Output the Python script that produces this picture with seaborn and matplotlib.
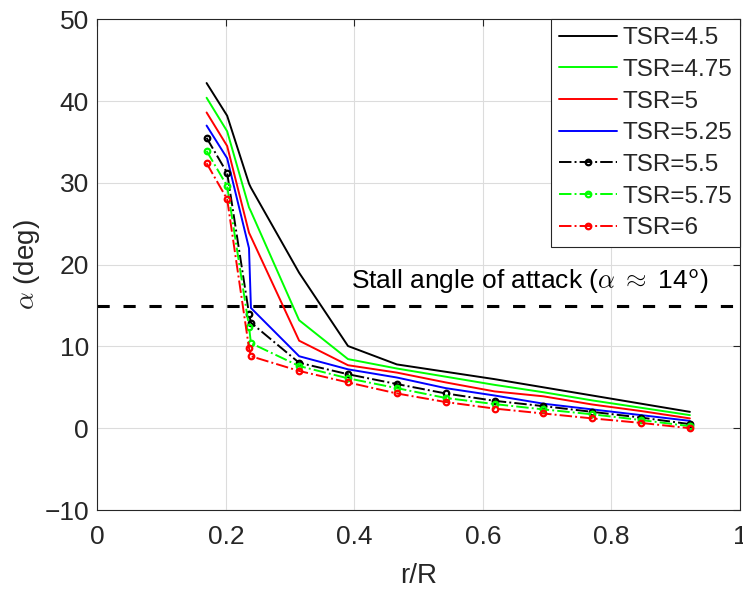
import numpy as np
import pandas as pd
import matplotlib
matplotlib.use("Agg")
import matplotlib.pyplot as plt
import seaborn as sns

# ---- data ----
r_R = [0.170, 0.202, 0.236, 0.239, 0.314, 0.390, 0.466, 0.542, 0.618, 0.694, 0.770, 0.846, 0.922]
tsr_labels = ["TSR=4.5", "TSR=4.75", "TSR=5", "TSR=5.25", "TSR=5.5", "TSR=5.75", "TSR=6"]
alpha_45 = [42.2, 38.2, 29.9, 29.4, 19.0, 10.05, 7.8, 6.9, 6.0, 5.0, 4.0, 3.0, 2.0]
alpha_475 = [40.4, 36.3, 27.0, 26.5, 13.2, 8.45, 7.3, 6.3, 5.3, 4.4, 3.4, 2.5, 1.6]
alpha_5 = [38.6, 34.5, 23.9, 23.4, 10.7, 7.7, 6.8, 5.6, 4.5, 3.9, 2.9, 2.1, 1.2]
alpha_525 = [37.0, 33.0, 22.0, 14.7, 8.8, 7.2, 6.2, 4.9, 4.0, 3.0, 2.3, 1.6, 0.9]
alpha_55 = [35.5, 31.2, 14.0, 12.9, 8.0, 6.6, 5.4, 4.25, 3.35, 2.7, 2.0, 1.3, 0.5]
alpha_575 = [33.9, 29.6, 12.4, 10.4, 7.6, 6.1, 4.9, 3.7, 2.95, 2.3, 1.7, 1.0, 0.25]
alpha_6 = [32.4, 28.0, 9.8, 8.8, 7.0, 5.6, 4.25, 3.2, 2.4, 1.8, 1.2, 0.65, 0.0]
stall_angle = 15
x_ticks = [0, 0.2, 0.4, 0.6, 0.8, 1]
x_tick_labels = ["0", "0.2", "0.4", "0.6", "0.8", "1"]
y_ticks = [-10, 0, 10, 20, 30, 40, 50]

series = [alpha_45, alpha_475, alpha_5, alpha_525, alpha_55, alpha_575, alpha_6]
colors = ["#000000", "#00ff00", "#ff0000", "#0000ff", "#000000", "#00ff00", "#ff0000"]
styles = ["-", "-", "-", "-", "-.", "-.", "-."]
markers = [None, None, None, None, "o", "o", "o"]

sns.set_theme(style="white")
plt.rcParams["font.family"] = ["Liberation Sans", "DejaVu Sans"]
plt.rcParams["mathtext.fontset"] = "cm"

fig = plt.figure(figsize=(7.43, 5.92), dpi=100)
ax = fig.add_axes([0.131, 0.1385, 0.865, 0.829])

for vals, lab, c, ls, mk in zip(series, tsr_labels, colors, styles, markers):
    df = pd.DataFrame({"r/R": r_R, "alpha": vals})
    kw = {}
    if mk:
        kw = dict(marker="o", markersize=4, markerfacecolor="none",
                  markeredgecolor=c, markeredgewidth=1.6)
    sns.lineplot(data=df, x="r/R", y="alpha", ax=ax, color=c, linestyle=ls,
                 linewidth=1.4, label=lab, sort=False, **kw)

ax.axhline(stall_angle, color="black", linewidth=2.2, linestyle=(0, (4.0, 4.5)), zorder=1)
ax.text(0.395, 17.9, r"Stall angle of attack ($\alpha\;\approx$ 14$^{\mathsf{o}}$)",
        fontsize=19, va="center", ha="left", color="black")

ax.set_xlim(0, 1)
ax.set_ylim(-10, 50)
ax.set_xticks(x_ticks)
ax.set_xticklabels(x_tick_labels)
ax.set_yticks(y_ticks)
ax.tick_params(axis="both", labelsize=19, direction="in", length=5, width=0.8,
               colors="#262626", top=True, right=True)
ax.tick_params(axis="x", pad=11)
ax.tick_params(axis="y", pad=6)
for lbl in ax.get_xticklabels() + ax.get_yticklabels():
    lbl.set_color("#262626")
ax.set_xlabel("r/R", fontsize=20, color="#262626", labelpad=10)
ax.set_ylabel(r"$\alpha$ (deg)", fontsize=20, color="#262626", labelpad=2)
ax.grid(True, color="#dcdcdc", linewidth=0.8)
for s in ax.spines.values():
    s.set_color("#262626")
    s.set_linewidth(0.8)
    s.set_visible(True)

leg = ax.legend(loc="upper right", fontsize=17.5, frameon=True, fancybox=False,
                edgecolor="#262626", framealpha=1, handlelength=2.4,
                borderpad=0.32, labelspacing=0.4, handletextpad=0.22,
                borderaxespad=0.0)
leg.get_frame().set_linewidth(0.8)

fig.savefig("out.png", dpi=100)
